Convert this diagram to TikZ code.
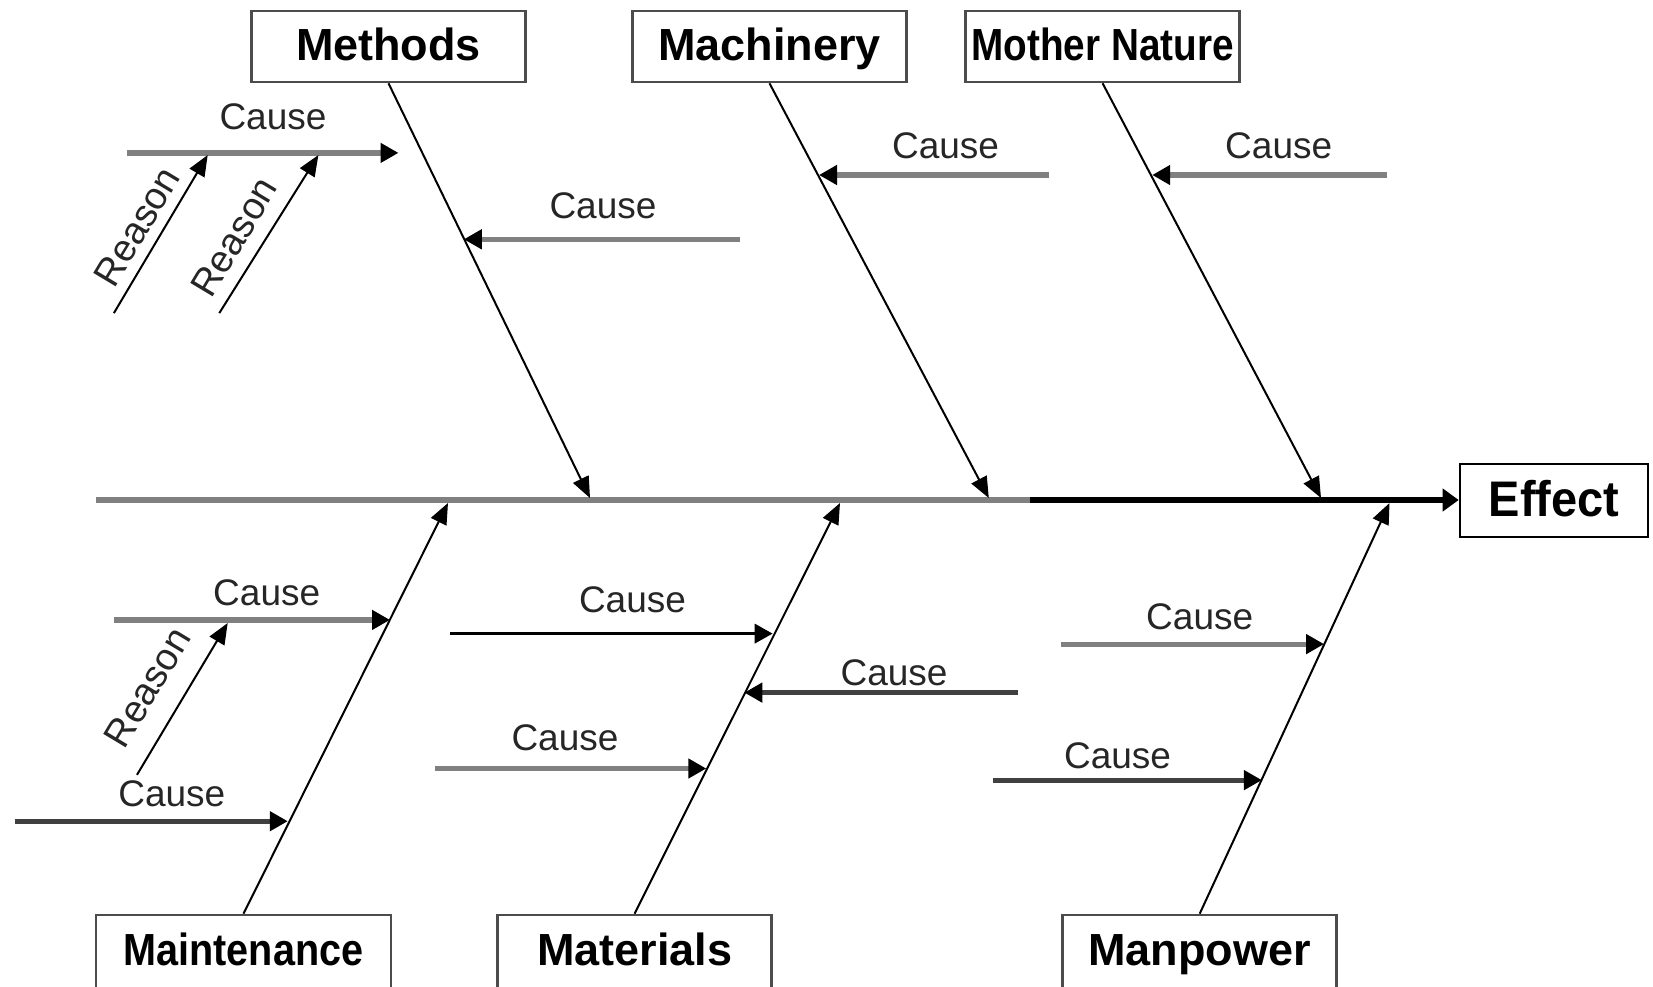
\documentclass[tikz,border=0pt]{standalone}
\usepackage{fontspec}
\setmainfont{Liberation Sans}
\usetikzlibrary{arrows.meta}
\begin{document}
\begin{tikzpicture}[x=0.5pt,y=-0.5pt,
  catbox/.style={draw=black!70, line width=1.3pt, fill=white, minimum width=137pt,
    minimum height=35.5pt, inner sep=0pt, text height=16.5pt, text depth=3pt,
    font=\bfseries\fontsize{22.5}{26}\selectfont},
  tip/.style={-{Triangle[length=9pt,width=9.5pt,color=black]}},
  bonetip/.style={-{Triangle[length=10.5pt,width=8.5pt,color=black]}},
  bone/.style={bonetip, line width=1pt, black},
  cause/.style={tip, line width=2.6pt, draw=black!50},
  causedark/.style={tip, line width=2.6pt, draw=black!75},
  causeblack/.style={tip, line width=1.8pt, draw=black},
  reasonline/.style={bonetip, line width=1pt, black},
  lbl/.style={inner sep=0pt, font=\fontsize{18.5}{22}\selectfont, text=black!85},
  rlbl/.style={inner sep=0pt, rotate=59, font=\fontsize{19}{22}\selectfont, text=black!85}
]
\useasboundingbox (0,0) rectangle (1653,986);
\fill[white] (0,0) rectangle (1653,986);
\clip (0,0) rectangle (1653,986);

% category boxes
\node[catbox] (methods) at (388.5,46.5) {Methods};
\node[catbox] (machinery) at (769.5,46.5) {Machinery};
\node[catbox] (nature) at (1102.6,46.5) {\scalebox{0.86}[1]{Mother Nature}};
\node[catbox, minimum width=147.5pt, minimum height=36.5pt] (maint) at (243.5,951.5) {\scalebox{0.88}[1]{Maintenance}};
\node[catbox, minimum height=36.5pt] (materials) at (634.6,951.5) {Materials};
\node[catbox, minimum height=36.5pt] (manpower) at (1199.7,951.5) {Manpower};
\node[catbox, draw=black, minimum width=94pt, minimum height=36.5pt, text height=18pt, text depth=2pt,
  font=\bfseries\fontsize{25}{28}\selectfont] (effect) at (1554,500.5) {\scalebox{0.94}[1]{Effect}};

% spine
\coordinate (tail) at (96,500);
\coordinate (mid) at (1030,500);
\draw[line width=2.6pt, black!50] (tail) -- (mid);
\draw[-{Triangle[length=8pt,width=11pt]}, line width=3pt, black] (mid) -- (effect.west |- mid);

% bones
\coordinate (jm) at (590,498);
\coordinate (jc) at (988.8,498);
\coordinate (jn) at (1321,498);
\coordinate (km) at (448,503);
\coordinate (kt) at (840,503);
\coordinate (kp) at (1389.5,503);
\draw[bone] (methods.south) -- (jm);
\draw[bone] (machinery.south) -- (jc);
\draw[bone] (nature.south) -- (jn);
\draw[bone] (maint.north) -- (km);
\draw[bone] (materials.north) -- (kt);
\draw[bone] (manpower.north) -- (kp);

% causes, upper half
\coordinate (a1) at (126.5,152.9);  \coordinate (b1) at (398.5,152.9);
\coordinate (a2) at (740,239.3);    \coordinate (b2) at (463.8,239.3);
\coordinate (a3) at (1049,175);     \coordinate (b3) at (819,175);
\coordinate (a4) at (1387.3,175);   \coordinate (b4) at (1152.2,175);
\draw[cause] (a1) -- (b1);
\draw[cause] (a2) -- (b2);
\draw[cause] (a3) -- (b3);
\draw[cause] (a4) -- (b4);
\node[lbl] (l1) at (273,117) {Cause};
\node[lbl] (l2) at (603,205.6) {Cause};
\node[lbl] (l3) at (945.6,145.5) {Cause};
\node[lbl] (l4) at (1278.7,145.5) {Cause};

% causes, lower half
\coordinate (a5) at (113.9,619.9);  \coordinate (b5) at (390,619.9);
\coordinate (a6) at (14.8,821.2);   \coordinate (b6) at (287.8,821.2);
\coordinate (a7) at (450.1,633.6);  \coordinate (b7) at (772.7,633.6);
\coordinate (a8) at (1018.4,692.6); \coordinate (b8) at (744.3,692.6);
\coordinate (a9) at (435.4,768.5);  \coordinate (b9) at (706.3,768.5);
\coordinate (a10) at (1060.5,644.1); \coordinate (b10) at (1324.1,644.1);
\coordinate (a11) at (993,780.1);   \coordinate (b11) at (1261.9,780.1);
\draw[cause] (a5) -- (b5);
\draw[causedark] (a6) -- (b6);
\draw[causeblack] (a7) -- (b7);
\draw[causedark] (a8) -- (b8);
\draw[cause] (a9) -- (b9);
\draw[cause] (a10) -- (b10);
\draw[causedark] (a11) -- (b11);
\node[lbl] (l5) at (266.7,592.5) {Cause};
\node[lbl] (l6) at (171.8,793.8) {Cause};
\node[lbl] (l7) at (632.5,599.8) {Cause};
\node[lbl] (l8) at (894,672.6) {Cause};
\node[lbl] (l9) at (565,738) {Cause};
\node[lbl] (l10) at (1199.7,616.7) {Cause};
\node[lbl] (l11) at (1117.5,755.9) {Cause};

% reasons
\coordinate (r1) at (113.9,313.1); \coordinate (s1) at (207.7,155);
\coordinate (r2) at (219.3,313.1); \coordinate (s2) at (318.4,155);
\coordinate (r3) at (137,774.8);   \coordinate (s3) at (227.7,623);
\draw[reasonline] (r1) -- (s1);
\draw[reasonline] (r2) -- (s2);
\draw[reasonline] (r3) -- (s3);
\node[rlbl] (q1) at (137,226.7) {Reason};
\node[rlbl] (q2) at (234,237) {Reason};
\node[rlbl] (q3) at (147.6,687.3) {Reason};
\end{tikzpicture}
\end{document}
